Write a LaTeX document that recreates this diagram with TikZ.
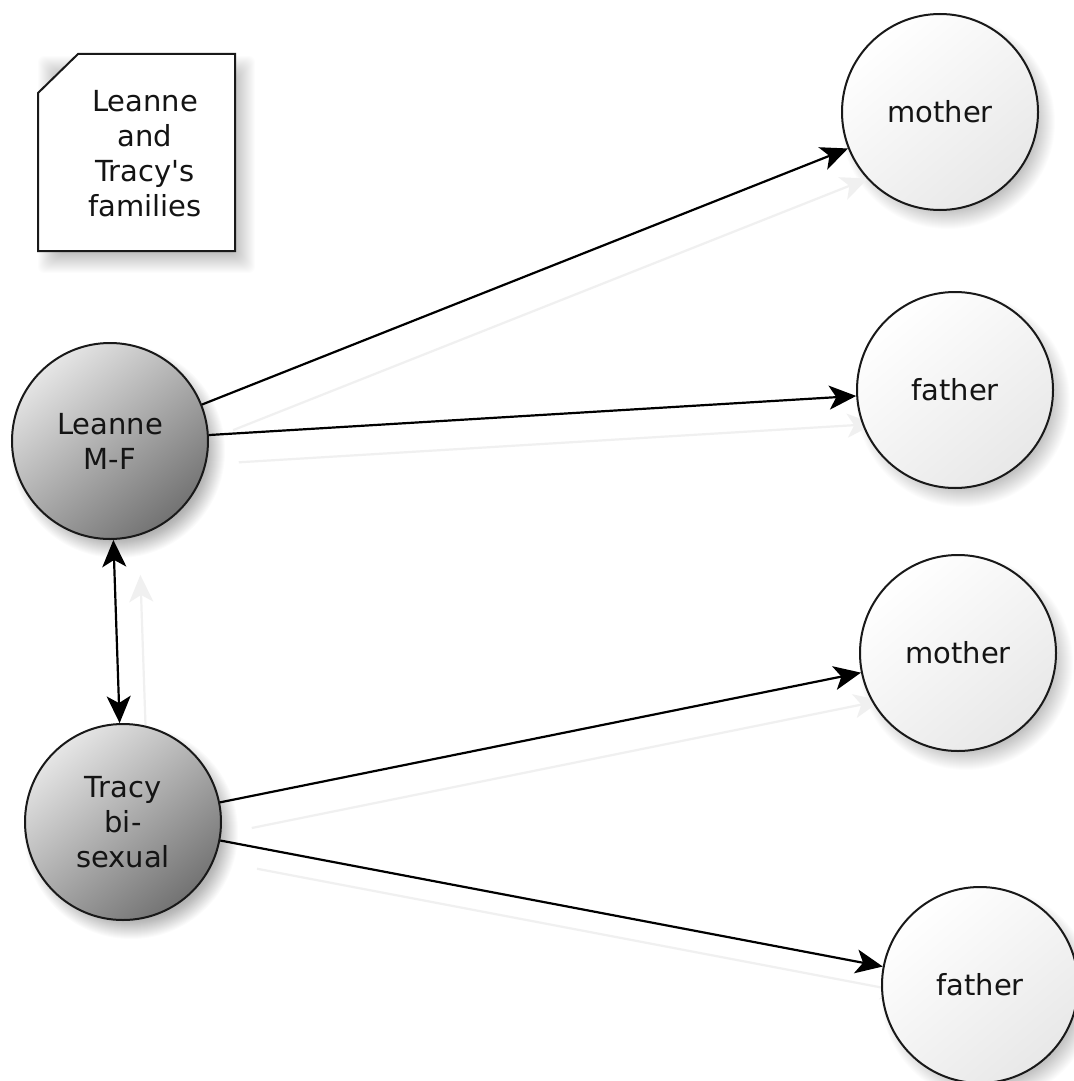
\documentclass[tikz,border=0pt]{standalone}
\usepackage{fontspec}
\setmainfont{DejaVu Sans}
\usetikzlibrary{arrows.meta,backgrounds}
\pgfdeclarelayer{bottom}
\pgfsetlayers{bottom,background,main}
\begin{document}
\begin{tikzpicture}[x=1pt,y=-1pt,
  txt/.style={font=\fontsize{29}{35}\selectfont, align=center, text=black!92},
  person/.style={circle, draw=black!90, line width=2pt, minimum size=196pt, inner sep=0pt,
    shading=axis, top color=black!10, bottom color=black!55, shading angle=40},
  relative/.style={circle, draw=black!90, line width=2pt, minimum size=196pt, inner sep=0pt,
    shading=axis, top color=white, bottom color=black!9, shading angle=40},
  tipA/.tip={Stealth[length=27pt,width=24pt,inset=7pt]},
  link/.style={line width=2.2pt, draw=black, -tipA},
  dlink/.style={line width=2.2pt, draw=black, tipA-tipA},
  shade/.style={line width=2.2pt, draw=black!6, -tipA, shorten <=12pt},
  softlayer/.style={fill=black, opacity=0.012},
  notebox/.style={draw=black!90, line width=2pt, fill=white}
]
\begin{pgfonlayer}{bottom}
\fill[white] (0,0) rectangle (1073,1081);
\end{pgfonlayer}
\useasboundingbox (0,0) rectangle (1073,1081);

% note with soft shadow
\foreach \k in {-10,-9,...,10}{
  \fill[softlayer, rounded corners=6pt] (48-\k,66-\k) rectangle (245+\k,263+\k);
}
\draw[notebox] (78,54) -- (235,54) -- (235,251) -- (38,251) -- (38,93) -- cycle;
\node[txt] (note) at (145,154) {Leanne\\and\\Tracy\textquotesingle s\\families};

% people
\node[person, txt] (leanne) at (110,441) {Leanne\\M-F};
\node[person, txt] (tracy) at (123,822) {Tracy\\bi-\\sexual};

% relatives
\node[relative, txt] (mother1) at (940,112) {mother};
\node[relative, txt] (father1) at (955,390) {father};
\node[relative, txt] (mother2) at (958,653) {mother};
\node[relative, txt] (father2) at (980,985) {father};

% soft shadows of circles and connectors
\begin{scope}[on background layer]
\foreach \n/\o in {leanne/0.014, tracy/0.014, mother1/0.011, father1/0.011, mother2/0.011, father2/0.011}{
  \foreach \k in {-10,-9,...,9}{
    \fill[fill=black, opacity=\o] ([shift={(8,10)}]\n.center) circle (98+\k);
  }
}
\draw[shade, transform canvas={shift={(20pt,-30pt)}}] (leanne) -- (mother1);
\draw[shade, transform canvas={shift={(18pt,-28pt)}}] (leanne) -- (father1);
\draw[shade, transform canvas={shift={(20pt,-28pt)}}] (tracy) -- (mother2);
\draw[shade, transform canvas={shift={(25pt,-26pt)}}] (tracy) -- (father2);
\draw[shade, transform canvas={shift={(27pt,-35pt)}}] (tracy) -- (leanne);
\end{scope}

% connectors
\draw[link] (leanne) -- (mother1);
\draw[link] (leanne) -- (father1);
\draw[dlink] (leanne) -- (tracy);
\draw[link] (tracy) -- (mother2);
\draw[link] (tracy) -- (father2);
\end{tikzpicture}
\end{document}
